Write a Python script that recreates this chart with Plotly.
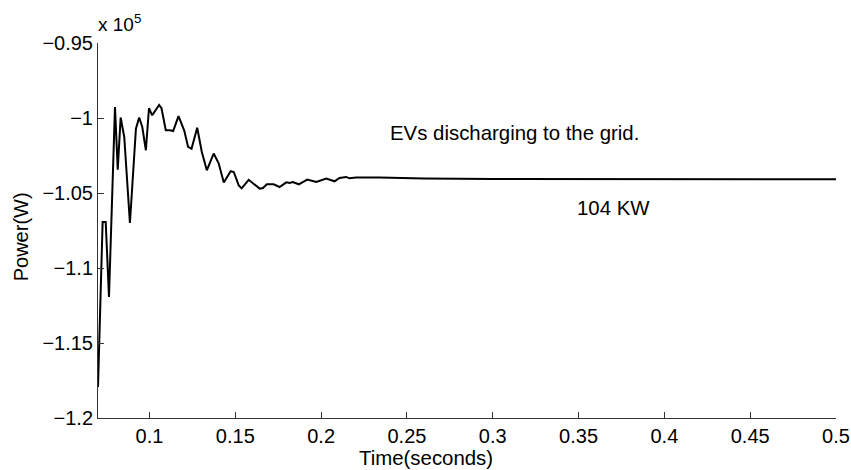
import plotly.graph_objects as go

# Time (s) and power (in units of 1e5 W)
time_s = [0.0700, 0.0727, 0.0745, 0.0764, 0.0799, 0.0815, 0.0832, 0.0853, 0.0886,
          0.0921, 0.0940, 0.0958, 0.0979, 0.0997, 0.1016, 0.1056, 0.1070, 0.1095,
          0.1119, 0.1138, 0.1169, 0.1202, 0.1225, 0.1245, 0.1278, 0.1305, 0.1334,
          0.1374, 0.1403, 0.1433, 0.1473, 0.1491, 0.1520, 0.1537, 0.1578, 0.1607,
          0.1642, 0.1661, 0.1684, 0.1723, 0.1758, 0.1797, 0.1816, 0.1835, 0.1870,
          0.1919, 0.1972, 0.2030, 0.2078, 0.2107, 0.2146, 0.2165, 0.2204, 0.2340,
          0.2600, 0.3000, 0.3500, 0.4000, 0.4500, 0.5000]
power_e5 = [-1.1793, -1.0693, -1.0693, -1.1193, -0.9927, -1.0344, -0.9997, -1.0127, -1.0700,
            -1.0071, -0.9997, -1.0060, -1.0215, -0.9935, -0.9982, -0.9913, -0.9935, -1.0082,
            -1.0082, -1.0087, -0.9987, -1.0082, -1.0193, -1.0205, -1.0065, -1.0227, -1.0349,
            -1.0237, -1.0302, -1.0430, -1.0355, -1.0360, -1.0449, -1.0469, -1.0412, -1.0437,
            -1.0471, -1.0467, -1.0442, -1.0442, -1.0460, -1.0429, -1.0433, -1.0427, -1.0442,
            -1.0411, -1.0427, -1.0404, -1.0422, -1.0400, -1.0393, -1.0402, -1.0397, -1.0397,
            -1.0403, -1.0406, -1.0408, -1.0409, -1.0409, -1.0409]

x_ticks = [0.1, 0.15, 0.2, 0.25, 0.3, 0.35, 0.4, 0.45, 0.5]
x_ticklabels = ["0.1", "0.15", "0.2", "0.25", "0.3", "0.35", "0.4", "0.45", "0.5"]
y_ticks = [-1.2, -1.15, -1.1, -1.05, -1.0, -0.95]
y_ticklabels = ["\u22121.2", "\u22121.15", "\u22121.1", "\u22121.05", "\u22121", "\u22120.95"]

FONT = "Liberation Sans, Arial, Helvetica, sans-serif"
W, H = 851, 470
L, R, T, B = 98, 836, 42.7, 417.7
pw, ph = R - L, B - T

def px(x):
    return (x - L) / pw

def py(y):
    return 1 - (y - T) / ph

fig = go.Figure()
fig.add_trace(go.Scatter(x=time_s, y=power_e5, mode="lines",
                         line=dict(color="black", width=2), showlegend=False))

axis_common = dict(showgrid=False, zeroline=False, showline=True, linecolor="#333",
                   linewidth=1, ticks="inside", ticklen=6, tickcolor="#333",
                   mirror=False, automargin=False)

fig.update_layout(
    width=W, height=H,
    margin=dict(l=L, r=W - R, t=T, b=H - B, pad=0, autoexpand=False),
    paper_bgcolor="white", plot_bgcolor="white",
    font=dict(family=FONT, size=20, color="black"),
    xaxis=dict(range=[0.07, 0.5], tickvals=x_ticks, ticktext=x_ticklabels, **axis_common),
    yaxis=dict(range=[-1.2, -0.95], tickvals=y_ticks, ticktext=y_ticklabels, **axis_common),
    annotations=[
        dict(text="EVs discharging to the grid.", xref="paper", yref="paper",
             x=px(388), y=py(133), xanchor="left", yanchor="middle",
             showarrow=False, font=dict(size=20.4)),
        dict(text="104 KW", xref="paper", yref="paper",
             x=px(575), y=py(208), xanchor="left", yanchor="middle",
             showarrow=False, font=dict(size=20.4)),
        dict(text="x\u00a010<sup>5</sup>", xref="paper", yref="paper",
             x=px(96), y=py(37), xanchor="left", yanchor="bottom",
             showarrow=False, font=dict(size=19)),
        dict(text="Power(W)", xref="paper", yref="paper",
             x=px(21), y=py(237), xanchor="center", yanchor="middle",
             textangle=-90, showarrow=False, font=dict(size=20)),
        dict(text="Time(seconds)", xref="paper", yref="paper",
             x=px(425.5), y=py(458), xanchor="center", yanchor="middle",
             showarrow=False, font=dict(size=20.4)),
    ],
)

fig.write_html("out.html")
